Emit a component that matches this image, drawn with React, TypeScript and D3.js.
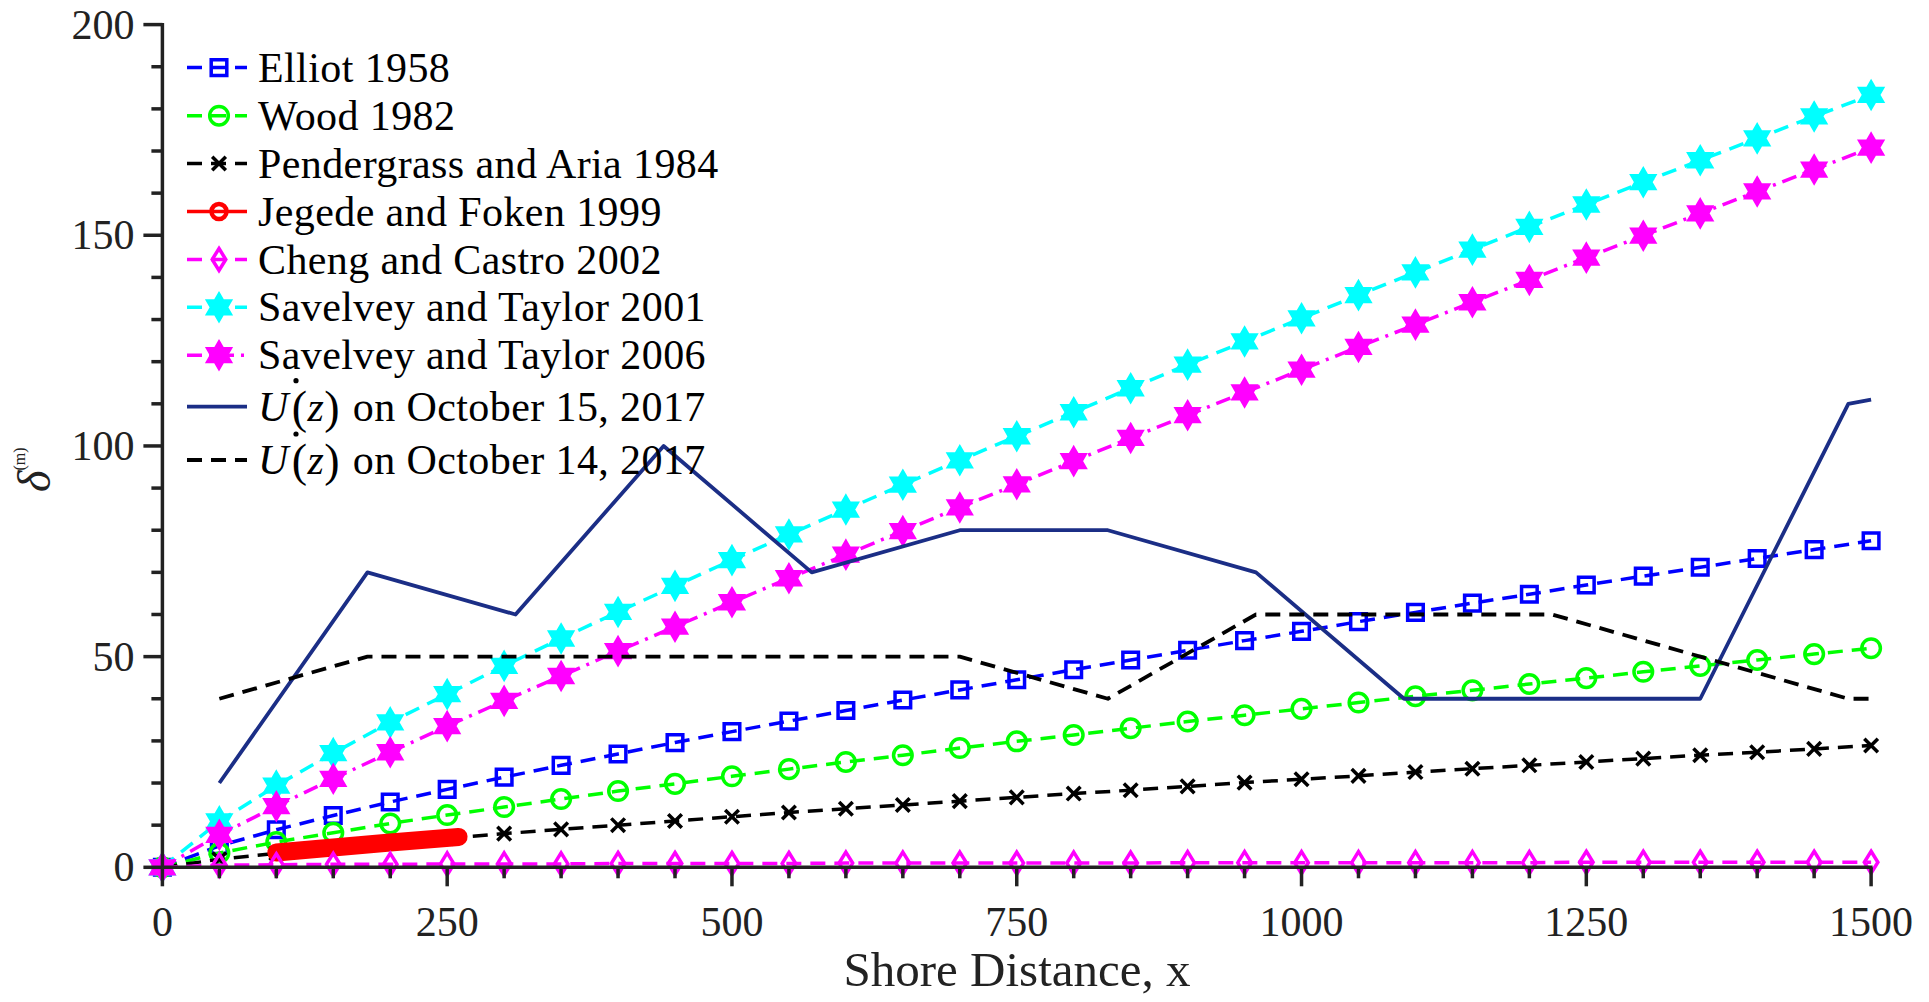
import * as d3 from "d3";

// shore distance for the model curves (m)
const xModel = [0, 50, 100, 150, 200, 250, 300, 350, 400, 450, 500, 550, 600, 650, 700, 750, 800, 850, 900, 950, 1000, 1050, 1100, 1150, 1200, 1250, 1300, 1350, 1400, 1450, 1500];

const elliot = [0, 5.1, 8.9, 12.3, 15.5, 18.5, 21.4, 24.2, 26.9, 29.6, 32.2, 34.7, 37.2, 39.7, 42.1, 44.5, 46.9, 49.2, 51.5, 53.8, 56.0, 58.3, 60.5, 62.7, 64.8, 67.0, 69.1, 71.2, 73.3, 75.4, 77.5];
const wood = [0, 3.4, 6.0, 8.2, 10.4, 12.4, 14.3, 16.2, 18.1, 19.8, 21.6, 23.3, 25.0, 26.6, 28.3, 29.9, 31.4, 33.0, 34.6, 36.1, 37.6, 39.1, 40.6, 42.0, 43.5, 44.9, 46.4, 47.8, 49.2, 50.6, 52.0];
const pendergrass = [0, 1.9, 3.3, 4.6, 5.8, 6.9, 8.0, 9.0, 10.0, 11.0, 12.0, 13.0, 13.9, 14.8, 15.7, 16.6, 17.5, 18.3, 19.2, 20.1, 20.9, 21.7, 22.6, 23.4, 24.2, 25.0, 25.8, 26.6, 27.3, 28.1, 28.9];
const cheng = [0, 0.5, 0.6, 0.7, 0.7, 0.8, 0.8, 0.8, 0.9, 0.9, 0.9, 0.9, 1.0, 1.0, 1.0, 1.0, 1.0, 1.0, 1.1, 1.1, 1.1, 1.1, 1.1, 1.1, 1.1, 1.2, 1.2, 1.2, 1.2, 1.2, 1.2];
const savelvey2001 = [0, 10.9, 19.4, 27.1, 34.4, 41.1, 47.8, 54.3, 60.6, 66.8, 72.9, 79.0, 84.9, 90.8, 96.6, 102.3, 108.0, 113.7, 119.3, 124.8, 130.3, 135.8, 141.2, 146.6, 152.0, 157.3, 162.6, 167.8, 173.0, 178.2, 183.3];
const savelvey2006 = [0, 7.7, 14.5, 21.0, 27.3, 33.5, 39.5, 45.4, 51.3, 57.1, 62.9, 68.6, 74.2, 79.8, 85.4, 90.9, 96.4, 101.9, 107.3, 112.7, 118.1, 123.5, 128.8, 134.1, 139.4, 144.7, 149.9, 155.2, 160.4, 165.6, 170.8];

const xJegede = [100, 150, 200, 260];
const jegede = [3.5, 4.7, 5.9, 7.2];

const xObs = [50, 180, 310, 440, 570, 700, 830, 960, 1090, 1220, 1350, 1480, 1500];
const oct15 = [20, 70, 60, 100, 70, 80, 80, 70, 40, 40, 40, 110, 111];
const oct14 = [40, 50, 50, 50, 50, 50, 40, 60, 60, 60, 50, 40, 40];

const xTicks = [0, 250, 500, 750, 1000, 1250, 1500];
const yTicks = [0, 50, 100, 150, 200];

const W = 1929;
const H = 1002;
const FONT = "'Liberation Serif', 'DejaVu Serif', serif";
const DASH = "15 9";
const DASHDOT = "15 7 3 7";

const x = d3.scaleLinear().domain([0, 1500]).range([162.4, 1871.1]);
const y = d3.scaleLinear().domain([0, 200]).range([867.3, 24.6]);

type Mk = "square" | "circle" | "cross" | "diamond" | "hexagram" | "none";

function markerPath(m: Mk): string {
  if (m === "square") return "M-7.8,-7.8H7.8V7.8H-7.8Z";
  if (m === "circle") return d3.symbol(d3.symbolCircle, Math.PI * 9.3 * 9.3)() as string;
  if (m === "cross") return "M-6.8,-6.8L6.8,6.8M-6.8,6.8L6.8,-6.8";
  if (m === "diamond") return "M0,-11L6.8,0L0,11L-6.8,0Z";
  if (m === "hexagram") {
    const R = 12.8, r = R / Math.sqrt(3);
    const pts: string[] = [];
    for (let i = 0; i < 12; i++) {
      const a = -Math.PI / 2 + (i * Math.PI) / 6;
      const rr = i % 2 === 0 ? R : r;
      pts.push(`${(rr * Math.cos(a)).toFixed(2)},${(rr * Math.sin(a)).toFixed(2)}`);
    }
    return "M" + pts.join("L") + "Z";
  }
  return "";
}

interface Series {
  name: string;
  xs: number[];
  ys: number[];
  color: string;
  dash: string | null;
  width: number;
  marker: Mk;
  fill: boolean;
  cap?: "round" | "butt";
}

const series: Series[] = [
  { name: "Elliot 1958", xs: xModel, ys: elliot, color: "#0000ff", dash: DASH, width: 3.5, marker: "square", fill: false },
  { name: "Wood 1982", xs: xModel, ys: wood, color: "#00ff00", dash: DASH, width: 3.5, marker: "circle", fill: false },
  { name: "Pendergrass and Aria 1984", xs: xModel, ys: pendergrass, color: "#000000", dash: DASH, width: 3.5, marker: "cross", fill: false },
  { name: "Jegede and Foken 1999", xs: xJegede, ys: jegede, color: "#ff0000", dash: null, width: 18, marker: "none", fill: false, cap: "round" },
  { name: "Cheng and Castro 2002", xs: xModel, ys: cheng, color: "#ff00ff", dash: DASH, width: 3.5, marker: "diamond", fill: false },
  { name: "Savelvey and Taylor 2001", xs: xModel, ys: savelvey2001, color: "#00ffff", dash: DASH, width: 3.5, marker: "hexagram", fill: true },
  { name: "Savelvey and Taylor 2006", xs: xModel, ys: savelvey2006, color: "#ff00ff", dash: DASHDOT, width: 3.5, marker: "hexagram", fill: true },
  { name: "oct15", xs: xObs, ys: oct15, color: "#1b2e86", dash: null, width: 3.8, marker: "none", fill: false },
  { name: "oct14", xs: xObs, ys: oct14, color: "#000000", dash: DASH, width: 3.8, marker: "none", fill: false },
];

const legendRows = [67.6, 115.7, 163.5, 211.5, 259.5, 307.3, 355.2, 406.7, 460];

function Marker({ s, cx, cy }: { s: Series; cx: number; cy: number }) {
  if (s.marker === "none") return null;
  return (
    <path
      d={markerPath(s.marker)}
      transform={`translate(${cx},${cy})`}
      fill={s.fill ? s.color : "none"}
      stroke={s.color}
      strokeWidth={3.5}
      strokeLinejoin="miter"
    />
  );
}

const TX = 258;
const LEG_FS = 42;

function LegendLabel({ s, yy }: { s: Series; yy: number }) {
  if (s.name === "oct15" || s.name === "oct14") {
    const day = s.name === "oct15" ? "15" : "14";
    return (
      <g>
        <text x={TX} y={yy + 14} fontFamily={FONT} fontSize={LEG_FS} fill="#000" letterSpacing={0.4}>
          <tspan fontStyle="italic">U</tspan>
          <tspan dx={3} fontSize={46} dy={2}>(</tspan>
          <tspan fontStyle="italic" dy={-2}>z</tspan>
          <tspan fontSize={46} dy={2}>)</tspan>
          <tspan dx={2} dy={-2}> on October {day}, 2017</tspan>
        </text>
        <circle cx={TX + 38} cy={yy - 26} r={2.6} fill="#000" />
      </g>
    );
  }
  return (
    <text x={TX} y={yy + 14} fontFamily={FONT} fontSize={LEG_FS} fill="#000" letterSpacing={0.4}>
      {s.name}
    </text>
  );
}

export default function App() {
  const line = d3.line<[number, number]>().x((d) => x(d[0])).y((d) => y(d[1]));
  const minorX = d3.range(0, 1501, 50);
  const minorY = d3.range(0, 201, 10);

  return (
    <div style={{ position: "absolute", left: 0, top: 0 }}>
      <svg width={W} height={H} style={{ display: "block", background: "#fff" }}>
        <rect width={W} height={H} fill="#fff" />

        {/* series */}
        {series.map((s, i) => {
          const pts = s.xs.map((v, j) => [v, s.ys[j]] as [number, number]);
          return (
            <g key={i}>
              <path
                d={line(pts) as string}
                fill="none"
                stroke={s.color}
                strokeWidth={s.width}
                strokeDasharray={s.dash ?? undefined}
                strokeLinecap={s.cap ?? "butt"}
                strokeLinejoin="round"
              />
              {pts.map((p, j) => (
                <Marker key={j} s={s} cx={x(p[0])} cy={y(p[1])} />
              ))}
            </g>
          );
        })}

        {/* axes */}
        <g stroke="#222" strokeWidth={3.5}>
          <line x1={x(0)} x2={x(0)} y1={y(200) - 1.5} y2={y(0)} />
          <line x1={x(0)} x2={x(1500) + 1.5} y1={y(0)} y2={y(0)} />
          {minorY.map((v) => (
            <line key={"my" + v} x1={x(0)} x2={x(0) - (v % 50 === 0 ? 19 : 11)} y1={y(v)} y2={y(v)} />
          ))}
          {minorX.map((v) => (
            <line key={"mx" + v} y1={y(0)} y2={y(0) + (v % 250 === 0 ? 19 : 11)} x1={x(v)} x2={x(v)} />
          ))}
        </g>
        <g fontFamily={FONT} fontSize={42} fill="#222">
          {yTicks.map((v) => (
            <text key={"ty" + v} x={x(0) - 28} y={y(v) + 14} textAnchor="end">
              {v}
            </text>
          ))}
          {xTicks.map((v) => (
            <text key={"tx" + v} x={x(v)} y={y(0) + 69} textAnchor="middle">
              {v}
            </text>
          ))}
        </g>
        <text x={1017} y={986} textAnchor="middle" fontFamily={FONT} fontSize={49} fill="#222">
          Shore Distance, x
        </text>
        <text transform="translate(50,492) rotate(-90)" fontFamily={FONT} fontSize={46} fill="#222">
          <tspan fontStyle="italic">δ</tspan>
          <tspan dy={-25} fontSize={16}>(m)</tspan>
        </text>

        {/* legend */}
        {series.map((s, i) => {
          const yy = legendRows[i];
          const isRed = s.name.startsWith("Jegede");
          return (
            <g key={"lg" + i}>
              <line
                x1={187}
                x2={247}
                y1={yy}
                y2={yy}
                stroke={s.color}
                strokeWidth={isRed ? 3.5 : s.width}
                strokeDasharray={s.dash ?? undefined}
              />
              {isRed ? (
                <circle cx={219} cy={yy} r={7.5} fill="none" stroke={s.color} strokeWidth={4.5} />
              ) : (
                <Marker s={s} cx={219} cy={yy} />
              )}
              <LegendLabel s={s} yy={yy} />
            </g>
          );
        })}
      </svg>
    </div>
  );
}
